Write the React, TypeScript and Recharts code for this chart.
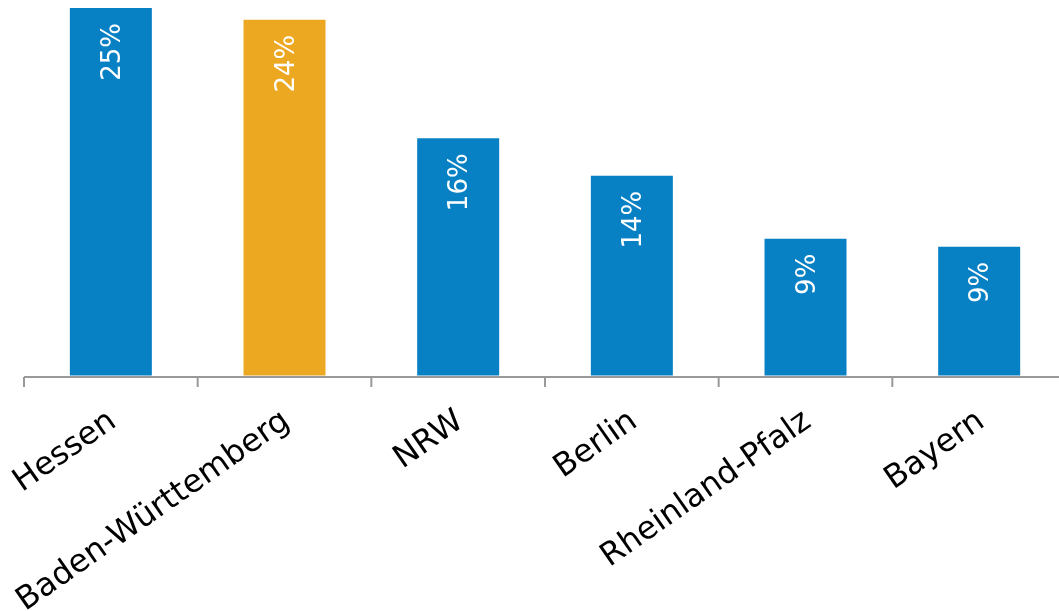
import React from 'react';
import { BarChart, Bar, XAxis, YAxis, Cell, LabelList } from 'recharts';

const categories = ['Hessen', 'Baden-Württemberg', 'NRW', 'Berlin', 'Rheinland-Pfalz', 'Bayern'];
const shares = [25.1, 24.3, 16.2, 13.65, 9.35, 8.8];
const barColors = ['#0880C4', '#EDA822', '#0880C4', '#0880C4', '#0880C4', '#0880C4'];

const data = categories.map((name, i) => ({ name, value: shares[i] }));

const FONT = '"DejaVu Sans", Verdana, sans-serif';
const AXIS_COLOR = '#999999';

const CatTick = (props: any) => {
  const { x, y, payload, index, visibleTicksCount, width } = props;
  const count = visibleTicksCount || categories.length;
  const half = payload && typeof payload.offset === 'number' && payload.offset > 0 ? payload.offset : (width || 0) / count / 2;
  return (
    <g>
      <line x1={x - half} x2={x - half} y1={y} y2={y + 10} stroke={AXIS_COLOR} strokeWidth={2} />
      {index === count - 1 && (
        <line x1={x + half} x2={x + half} y1={y} y2={y + 10} stroke={AXIS_COLOR} strokeWidth={2} />
      )}
      <text
        transform={`translate(${x + 7},${y + 48}) rotate(-35)`}
        textAnchor="end"
        fontSize={32}
        fontFamily={FONT}
        fill="#000"
      >
        {payload.value}
      </text>
    </g>
  );
};

const BarLabel = (props: any) => {
  const vb = props.viewBox || {};
  const x = props.x ?? vb.x;
  const y = props.y ?? vb.y;
  const w = props.width ?? vb.width;
  const cx = x + w / 2;
  const ty = y + 15;
  return (
    <text
      x={cx}
      y={ty}
      transform={`rotate(-90, ${cx}, ${ty})`}
      textAnchor="end"
      dominantBaseline="central"
      fontSize={26}
      fontFamily={FONT}
      fill="#ffffff"
    >
      {`${Math.round(Number(props.value))}%`}
    </text>
  );
};

export default function App() {
  return (
    <div style={{ position: 'fixed', left: 8, top: 8, width: 1051, height: 603, overflow: 'hidden' }}>
      <BarChart
        width={1058}
        height={603}
        data={data}
        margin={{ top: 0, right: 0, left: 16, bottom: 0 }}
        barCategoryGap="26.4%"
      >
        <YAxis hide domain={[-0.1, 25.1]} type="number" />
        <XAxis
          dataKey="name"
          interval={0}
          height={234}
          tickLine={false}
          tickSize={0}
          tickMargin={0}
          axisLine={{ stroke: AXIS_COLOR, strokeWidth: 2 }}
          tick={<CatTick />}
        />
        <Bar dataKey="value" isAnimationActive={false}>
          {data.map((d, i) => (
            <Cell key={d.name} fill={barColors[i]} />
          ))}
          <LabelList dataKey="value" content={<BarLabel />} />
        </Bar>
      </BarChart>
    </div>
  );
}
